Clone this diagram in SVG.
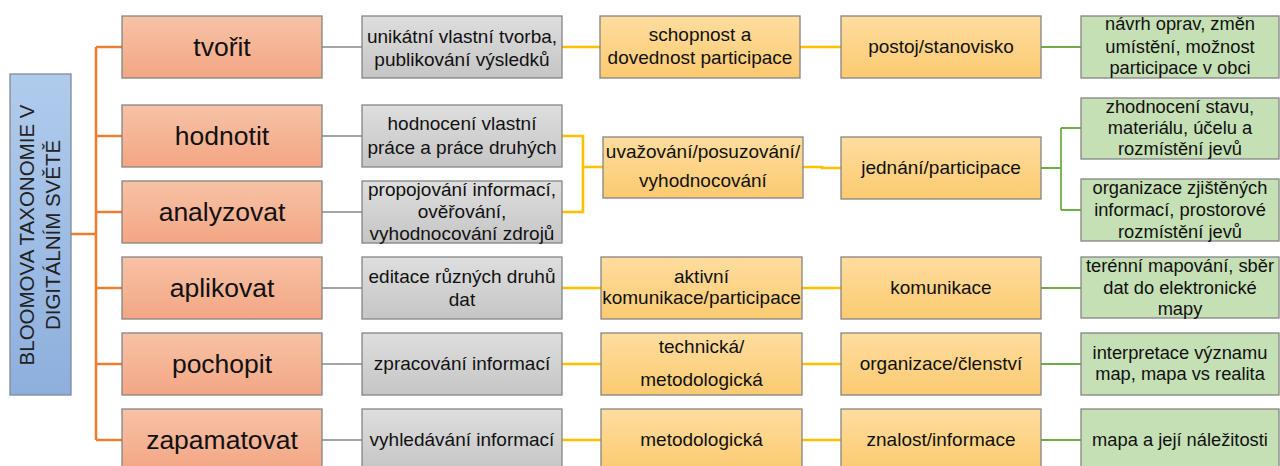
<svg xmlns="http://www.w3.org/2000/svg" width="1280" height="466" viewBox="0 0 1280 466">
  <defs>
    <linearGradient id="gRoot" x1="0" y1="0" x2="0" y2="1">
      <stop offset="0" stop-color="#b0cbec"/>
      <stop offset="1" stop-color="#8eafdd"/>
    </linearGradient>
    <linearGradient id="gLevel" x1="0" y1="0" x2="0" y2="1">
      <stop offset="0" stop-color="#f7c2a7"/>
      <stop offset="1" stop-color="#f3a683"/>
    </linearGradient>
    <linearGradient id="gGray" x1="0" y1="0" x2="0" y2="1">
      <stop offset="0" stop-color="#dedede"/>
      <stop offset="1" stop-color="#c5c5c5"/>
    </linearGradient>
    <linearGradient id="gGold" x1="0" y1="0" x2="0" y2="1">
      <stop offset="0" stop-color="#fedd9f"/>
      <stop offset="1" stop-color="#fcca70"/>
    </linearGradient>
  </defs>
  <style>
    rect { stroke: #858585; stroke-width: 1.3; }
    .root { fill: url(#gRoot); stroke: #7d8a99; }
    .level { fill: url(#gLevel); }
    .gray { fill: url(#gGray); }
    .gold { fill: url(#gGold); }
    .green { fill: #c5e0b4; }
    text { font-family: "Liberation Sans", Arial, sans-serif; fill: #111; text-anchor: middle; }
    .t-root { font-size: 20.5px; fill: #222; }
    .t-level { font-size: 26.5px; }
    .t-box { font-size: 19px; }
    .t-green { font-size: 18.3px; }
    .c-orange { stroke: #ed7d31; stroke-width: 2.6; fill: none; }
    .c-gray { stroke: #a5a5a5; stroke-width: 2.2; fill: none; }
    .c-gold { stroke: #ffc000; stroke-width: 2.6; fill: none; }
    .c-green { stroke: #70ad47; stroke-width: 1.8; fill: none; }
  </style>

  <!-- connectors -->
  <g id="connectors">
    <path class="c-orange" d="M71,234 H96 M96,47 V440 M96,47 H122 M96,136 H122 M96,212 H122 M96,288 H122 M96,364 H122 M96,440 H122"/>
    <path class="c-gray" d="M322,47 H362 M322,136 H362 M322,212 H362 M322,288 H362 M322,364 H362 M322,440 H362"/>
    <path class="c-gold" d="M562,47 H600 M562,136 H583 V212 H562 M583,167 H603 M562,288 H601 M562,364 H601 M562,440 H601"/>
    <path class="c-gold" d="M800,47 H841 M803,167 H822 V168 H841 M802,288 H841 M802,364 H841 M802,440 H841"/>
    <path class="c-green" d="M1041,47 H1081 M1041,168 H1061 M1061,128 V210 M1061,128 H1081 M1061,210 H1081 M1041,288 H1081 M1041,364 H1081 M1041,440 H1081"/>
  </g>

  <!-- root -->
  <g id="root">
    <rect class="root" x="10" y="74" width="61" height="321"/>
    <text class="t-root" transform="translate(33.5,235) rotate(-90)">BLOOMOVA TAXONOMIE V</text>
    <text class="t-root" transform="translate(60,235) rotate(-90)">DIGITÁLNÍM SVĚTĚ</text>
  </g>

  <!-- taxonomy levels -->
  <g id="level-tvorit">
    <rect class="level" x="122" y="16" width="200" height="62"/>
    <text class="t-level" x="222" y="55.5">tvořit</text>
  </g>
  <g id="level-hodnotit">
    <rect class="level" x="122" y="105" width="200" height="62"/>
    <text class="t-level" x="222" y="144.5">hodnotit</text>
  </g>
  <g id="level-analyzovat">
    <rect class="level" x="122" y="181" width="200" height="62"/>
    <text class="t-level" x="222" y="220.5">analyzovat</text>
  </g>
  <g id="level-aplikovat">
    <rect class="level" x="122" y="257" width="200" height="62"/>
    <text class="t-level" x="222" y="296.5">aplikovat</text>
  </g>
  <g id="level-pochopit">
    <rect class="level" x="122" y="333" width="200" height="62"/>
    <text class="t-level" x="222" y="372.5">pochopit</text>
  </g>
  <g id="level-zapamatovat">
    <rect class="level" x="122" y="409" width="200" height="62"/>
    <text class="t-level" x="222" y="448.5">zapamatovat</text>
  </g>

  <!-- activities -->
  <g id="act-1">
    <rect class="gray" x="362" y="16" width="200" height="62"/>
    <text class="t-box" x="462" y="43">unikátní vlastní tvorba,</text>
    <text class="t-box" x="462" y="65.5">publikování výsledků</text>
  </g>
  <g id="act-2">
    <rect class="gray" x="362" y="105" width="200" height="62"/>
    <text class="t-box" x="462" y="130">hodnocení vlastní</text>
    <text class="t-box" x="462" y="154">práce a práce druhých</text>
  </g>
  <g id="act-3">
    <rect class="gray" x="362" y="181" width="200" height="62"/>
    <text class="t-box" x="462" y="196">propojování informací,</text>
    <text class="t-box" x="462" y="218">ověřování,</text>
    <text class="t-box" x="462" y="239.5">vyhodnocování zdrojů</text>
  </g>
  <g id="act-4">
    <rect class="gray" x="362" y="257" width="200" height="62"/>
    <text class="t-box" x="462" y="283">editace různých druhů</text>
    <text class="t-box" x="462" y="306">dat</text>
  </g>
  <g id="act-5">
    <rect class="gray" x="362" y="333" width="200" height="62"/>
    <text class="t-box" x="462" y="369.5">zpracování informací</text>
  </g>
  <g id="act-6">
    <rect class="gray" x="362" y="409" width="200" height="62"/>
    <text class="t-box" x="462" y="445.5">vyhledávání informací</text>
  </g>

  <!-- competences -->
  <g id="comp-1">
    <rect class="gold" x="600" y="16" width="200" height="62"/>
    <text class="t-box" x="700" y="40.5">schopnost a</text>
    <text class="t-box" x="700" y="64">dovednost participace</text>
  </g>
  <g id="comp-2">
    <rect class="gold" x="603" y="137" width="200" height="61"/>
    <text class="t-box" x="703" y="157.5">uvažování/posuzování/</text>
    <text class="t-box" x="703" y="187">vyhodnocování</text>
  </g>
  <g id="comp-3">
    <rect class="gold" x="601" y="257" width="201" height="62"/>
    <text class="t-box" x="701.5" y="283">aktivní</text>
    <text class="t-box" x="701.5" y="304">komunikace/participace</text>
  </g>
  <g id="comp-4">
    <rect class="gold" x="601" y="333" width="201" height="62"/>
    <text class="t-box" x="701.5" y="353">technická/</text>
    <text class="t-box" x="701.5" y="385.5">metodologická</text>
  </g>
  <g id="comp-5">
    <rect class="gold" x="601" y="409" width="201" height="62"/>
    <text class="t-box" x="701.5" y="445.5">metodologická</text>
  </g>

  <!-- civic dimension -->
  <g id="civic-1">
    <rect class="gold" x="841" y="16" width="200" height="62"/>
    <text class="t-box" x="941" y="53">postoj/stanovisko</text>
  </g>
  <g id="civic-2">
    <rect class="gold" x="841" y="137" width="200" height="62"/>
    <text class="t-box" x="941" y="173.5">jednání/participace</text>
  </g>
  <g id="civic-3">
    <rect class="gold" x="841" y="257" width="200" height="62"/>
    <text class="t-box" x="941" y="293.5">komunikace</text>
  </g>
  <g id="civic-4">
    <rect class="gold" x="841" y="333" width="200" height="62"/>
    <text class="t-box" x="941" y="370">organizace/členství</text>
  </g>
  <g id="civic-5">
    <rect class="gold" x="841" y="409" width="200" height="62"/>
    <text class="t-box" x="941" y="446">znalost/informace</text>
  </g>

  <!-- map tasks -->
  <g id="task-1">
    <rect class="green" x="1081" y="16" width="198" height="62"/>
    <text class="t-green" x="1180" y="30">návrh oprav, změn</text>
    <text class="t-green" x="1180" y="52.5">umístění, možnost</text>
    <text class="t-green" x="1180" y="74">participace v obci</text>
  </g>
  <g id="task-2">
    <rect class="green" x="1081" y="98" width="198" height="61"/>
    <text class="t-green" x="1180" y="112.5">zhodnocení stavu,</text>
    <text class="t-green" x="1180" y="133.5">materiálu, účelu a</text>
    <text class="t-green" x="1180" y="155">rozmístění jevů</text>
  </g>
  <g id="task-3">
    <rect class="green" x="1081" y="179" width="198" height="62"/>
    <text class="t-green" x="1180" y="193.5">organizace zjištěných</text>
    <text class="t-green" x="1180" y="215.5">informací, prostorové</text>
    <text class="t-green" x="1180" y="237.5">rozmístění jevů</text>
  </g>
  <g id="task-4">
    <rect class="green" x="1081" y="257" width="198" height="61"/>
    <text class="t-green" x="1180" y="271.5">terénní mapování, sběr</text>
    <text class="t-green" x="1180" y="294">dat do elektronické</text>
    <text class="t-green" x="1180" y="315">mapy</text>
  </g>
  <g id="task-5">
    <rect class="green" x="1081" y="333" width="198" height="62"/>
    <text class="t-green" x="1180" y="358.5">interpretace významu</text>
    <text class="t-green" x="1180" y="380">map, mapa vs realita</text>
  </g>
  <g id="task-6">
    <rect class="green" x="1081" y="409" width="198" height="62"/>
    <text class="t-green" x="1180" y="445.5">mapa a její náležitosti</text>
  </g>
</svg>
